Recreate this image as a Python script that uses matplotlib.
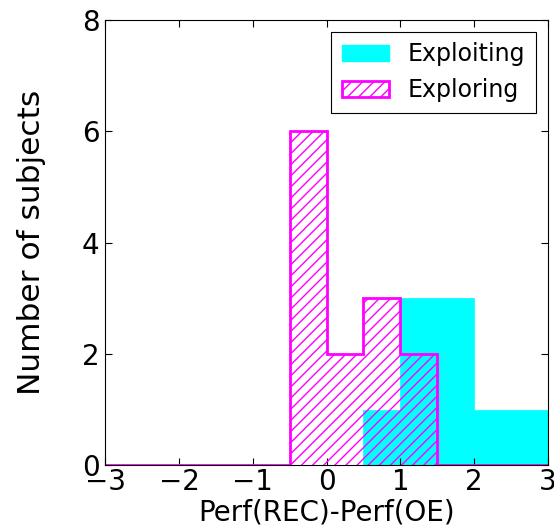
import numpy as np
import matplotlib
matplotlib.use("Agg")
import matplotlib.pyplot as plt
from matplotlib.patches import Patch

bin_edges = [-3.0, -2.5, -2.0, -1.5, -1.0, -0.5, 0.0, 0.5, 1.0, 1.5, 2.0, 2.5, 3.0]
exploiting_counts = [0, 0, 0, 0, 0, 0, 0, 1, 3, 3, 1, 1]
exploring_counts = [0, 0, 0, 0, 0, 6, 2, 3, 2, 0, 0, 0]
xticks = [-3, -2, -1, 0, 1, 2, 3]
yticks = [0, 2, 4, 6, 8]

plt.rcParams['hatch.color'] = 'magenta'
plt.rcParams['hatch.linewidth'] = 1.0

fig = plt.figure(figsize=(5.54, 5.25), dpi=100)
ax = fig.add_axes([0.19, 0.114, 0.799, 0.848])

centers = [(a + b) / 2 for a, b in zip(bin_edges[:-1], bin_edges[1:])]
ax.hist(centers, bins=bin_edges, weights=exploiting_counts, histtype='stepfilled',
        color='cyan', edgecolor='cyan', linewidth=0.5, label='Exploiting')
ax.hist(centers, bins=bin_edges, weights=exploring_counts, histtype='step',
        color='magenta', linewidth=2, hatch='///', fill=False, label='Exploring')

ax.set_xlim(-3, 3)
ax.set_ylim(0, 8)
ax.set_xticks(xticks)
ax.set_yticks(yticks)
ax.tick_params(direction='in', top=True, right=True, labelsize=20, length=5)
ax.tick_params(axis='x', pad=2)
ax.tick_params(axis='y', pad=4)
ax.set_xlabel('Perf(REC)-Perf(OE)', fontsize=20, labelpad=2)
ax.set_ylabel('Number of subjects', fontsize=22.5, labelpad=26)

handles = [Patch(facecolor='cyan', edgecolor='cyan', label='Exploiting'),
           Patch(facecolor='none', edgecolor='magenta', hatch='///', linewidth=2, label='Exploring')]
leg = ax.legend(handles=handles, loc='upper right', fontsize=17, fancybox=False,
                framealpha=1, edgecolor='black', handlelength=2.0, handleheight=0.7,
                handletextpad=0.8, labelspacing=0.5, borderpad=0.45, borderaxespad=0.5)
leg.get_frame().set_linewidth(0.8)

fig.savefig('out.png', dpi=100)
